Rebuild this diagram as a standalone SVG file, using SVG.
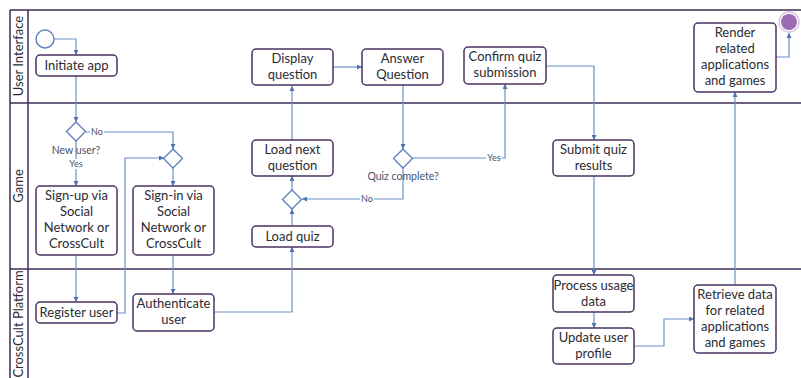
<svg xmlns="http://www.w3.org/2000/svg" width="801" height="378" viewBox="0 0 801 378">
<defs>
<marker id="ah" viewBox="0 0 6 6" refX="6" refY="3" markerWidth="5" markerHeight="5" orient="auto" markerUnits="userSpaceOnUse">
<path d="M0,0 L6,3 L0,6 z" fill="#4f72b0"/>
</marker>
<style>
.lane{stroke:#3f2d57;stroke-width:1.5;fill:none}
.box{fill:#fff;stroke:#4a3263;stroke-width:1.5}
.t{font-family:Lato,"Liberation Sans",sans-serif;font-size:13px;fill:#2b2b33;text-anchor:middle}
.ll{font-family:Lato,"Liberation Sans",sans-serif;font-size:13px;fill:#2b2b38;text-anchor:middle}
.c{fill:none;stroke:#6d8fc6;stroke-width:1.2;marker-end:url(#ah)}
.cn{fill:none;stroke:#6d8fc6;stroke-width:1.2}
.dl{font-family:Lato,"Liberation Sans",sans-serif;font-size:10.5px;fill:#44546a;text-anchor:middle}
.sl{font-family:Lato,"Liberation Sans",sans-serif;font-size:9px;fill:#44546a;text-anchor:middle}
.dia{fill:#fff;stroke:#5b7fbf;stroke-width:1.4}
</style>
</defs>
<g id="lanes">
<path class="lane" d="M10,10 H801 M10,10 V378 M28,10 V378 M10,103 H801 M10,269 H801"/>
<text class="ll" transform="translate(23,56) rotate(-90)">User Interface</text>
<text class="ll" transform="translate(23,186) rotate(-90)">Game</text>
<text class="ll" transform="translate(23,324) rotate(-90)">CrossCult Platform</text>
</g>
<g id="connectors">
<path class="c" d="M54,39 H76 V55"/>
<path class="c" d="M76,76 V122"/>
<path class="c" d="M86,132 H173 V149"/>
<path class="c" d="M76,141 V186"/>
<path class="c" d="M173,168 V186"/>
<path class="c" d="M76,255 V302"/>
<path class="c" d="M117,313 H125 V158 H164"/>
<path class="c" d="M173,255 V294"/>
<path class="c" d="M214,312 H292 V247"/>
<path class="c" d="M292,226 V209"/>
<path class="c" d="M292,190 V176"/>
<path class="c" d="M292,140 V86"/>
<path class="c" d="M333,67 H362"/>
<path class="c" d="M403,85 V149"/>
<path class="c" d="M403,168 V199 H302"/>
<path class="c" d="M413,158 H505 V84"/>
<path class="c" d="M546,66 H594 V140"/>
<path class="c" d="M594,176 V275"/>
<path class="c" d="M594,312 V328"/>
<path class="c" d="M634,346 H664 V319 H694"/>
<path class="c" d="M735,285 V92"/>
<path class="c" d="M776,57 H789 V33"/>
<rect x="90" y="127" width="14" height="10" fill="#fff"/>
<text class="sl" x="97" y="135">No</text>
<rect x="68" y="159" width="16" height="10" fill="#fff"/>
<text class="sl" x="76" y="167">Yes</text>
<rect x="360" y="194" width="14" height="10" fill="#fff"/>
<text class="sl" x="367" y="202">No</text>
<rect x="486" y="153" width="16" height="10" fill="#fff"/>
<text class="sl" x="494" y="161">Yes</text>
</g>
<g id="start"><circle cx="45" cy="39" r="9" fill="#fff" stroke="#5b7fbf" stroke-width="1.4"/></g>
<g id="end"><circle cx="789" cy="22" r="10" fill="#fff" stroke="#d9c6e3" stroke-width="1.5"/><circle cx="789" cy="22" r="8" fill="#9b6cb3"/></g>
<g id="initiate"><rect class="box" x="36" y="55" width="81" height="21" rx="4"/><text class="t" x="76.5" y="70">Initiate app</text></g>
<g id="newuser"><path class="dia" d="M76,122 L85.5,131.5 L76,141 L66.5,131.5 z"/><text class="dl" x="76" y="154">New user?</text></g>
<g id="merge"><path class="dia" d="M173,149 L182.5,158.5 L173,168 L163.5,158.5 z"/></g>
<g id="signup"><rect class="box" x="36" y="186" width="81" height="69" rx="4"/><text class="t" x="76.5" y="200">Sign-up via</text><text class="t" x="76.5" y="216">Social</text><text class="t" x="76.5" y="232">Network or</text><text class="t" x="76.5" y="248">CrossCult</text></g>
<g id="signin"><rect class="box" x="133" y="186" width="81" height="69" rx="4"/><text class="t" x="173.5" y="200">Sign-in via</text><text class="t" x="173.5" y="216">Social</text><text class="t" x="173.5" y="232">Network or</text><text class="t" x="173.5" y="248">CrossCult</text></g>
<g id="register"><rect class="box" x="36" y="302" width="81" height="21" rx="4"/><text class="t" x="76.5" y="317">Register user</text></g>
<g id="authenticate"><rect class="box" x="133" y="294" width="81" height="37" rx="4"/><text class="t" x="173.5" y="308">Authenticate</text><text class="t" x="173.5" y="324">user</text></g>
<g id="loadquiz"><rect class="box" x="252" y="226" width="81" height="21" rx="4"/><text class="t" x="292.5" y="241">Load quiz</text></g>
<g id="merge2"><path class="dia" d="M292,190 L301.5,199.5 L292,209 L282.5,199.5 z"/></g>
<g id="loadnext"><rect class="box" x="252" y="140" width="81" height="36" rx="4"/><text class="t" x="292.5" y="154">Load next</text><text class="t" x="292.5" y="170">question</text></g>
<g id="display"><rect class="box" x="252" y="49" width="81" height="36" rx="4"/><text class="t" x="292.5" y="63">Display</text><text class="t" x="292.5" y="79">question</text></g>
<g id="answer"><rect class="box" x="362" y="49" width="81" height="36" rx="4"/><text class="t" x="402.5" y="63">Answer</text><text class="t" x="402.5" y="79">Question</text></g>
<g id="quizcomplete"><path class="dia" d="M403,149 L412.5,158.5 L403,168 L393.5,158.5 z"/><text class="dl" x="403" y="180">Quiz complete?</text></g>
<g id="confirm"><rect class="box" x="464" y="47" width="82" height="37" rx="4"/><text class="t" x="505" y="61">Confirm quiz</text><text class="t" x="505" y="77">submission</text></g>
<g id="submit"><rect class="box" x="553" y="140" width="81" height="36" rx="4"/><text class="t" x="593.5" y="154">Submit quiz</text><text class="t" x="593.5" y="170">results</text></g>
<g id="process"><rect class="box" x="553" y="275" width="81" height="37" rx="4"/><text class="t" x="593.5" y="290">Process usage</text><text class="t" x="593.5" y="306">data</text></g>
<g id="update"><rect class="box" x="553" y="328" width="81" height="36" rx="4"/><text class="t" x="593.5" y="342">Update user</text><text class="t" x="593.5" y="358">profile</text></g>
<g id="retrieve"><rect class="box" x="694" y="285" width="82" height="68" rx="4"/><text class="t" x="735" y="299">Retrieve data</text><text class="t" x="735" y="315">for related</text><text class="t" x="735" y="331">applications</text><text class="t" x="735" y="347">and games</text></g>
<g id="render"><rect class="box" x="694" y="23" width="82" height="69" rx="4"/><text class="t" x="735" y="37">Render</text><text class="t" x="735" y="53">related</text><text class="t" x="735" y="69">applications</text><text class="t" x="735" y="85">and games</text></g>
</svg>
